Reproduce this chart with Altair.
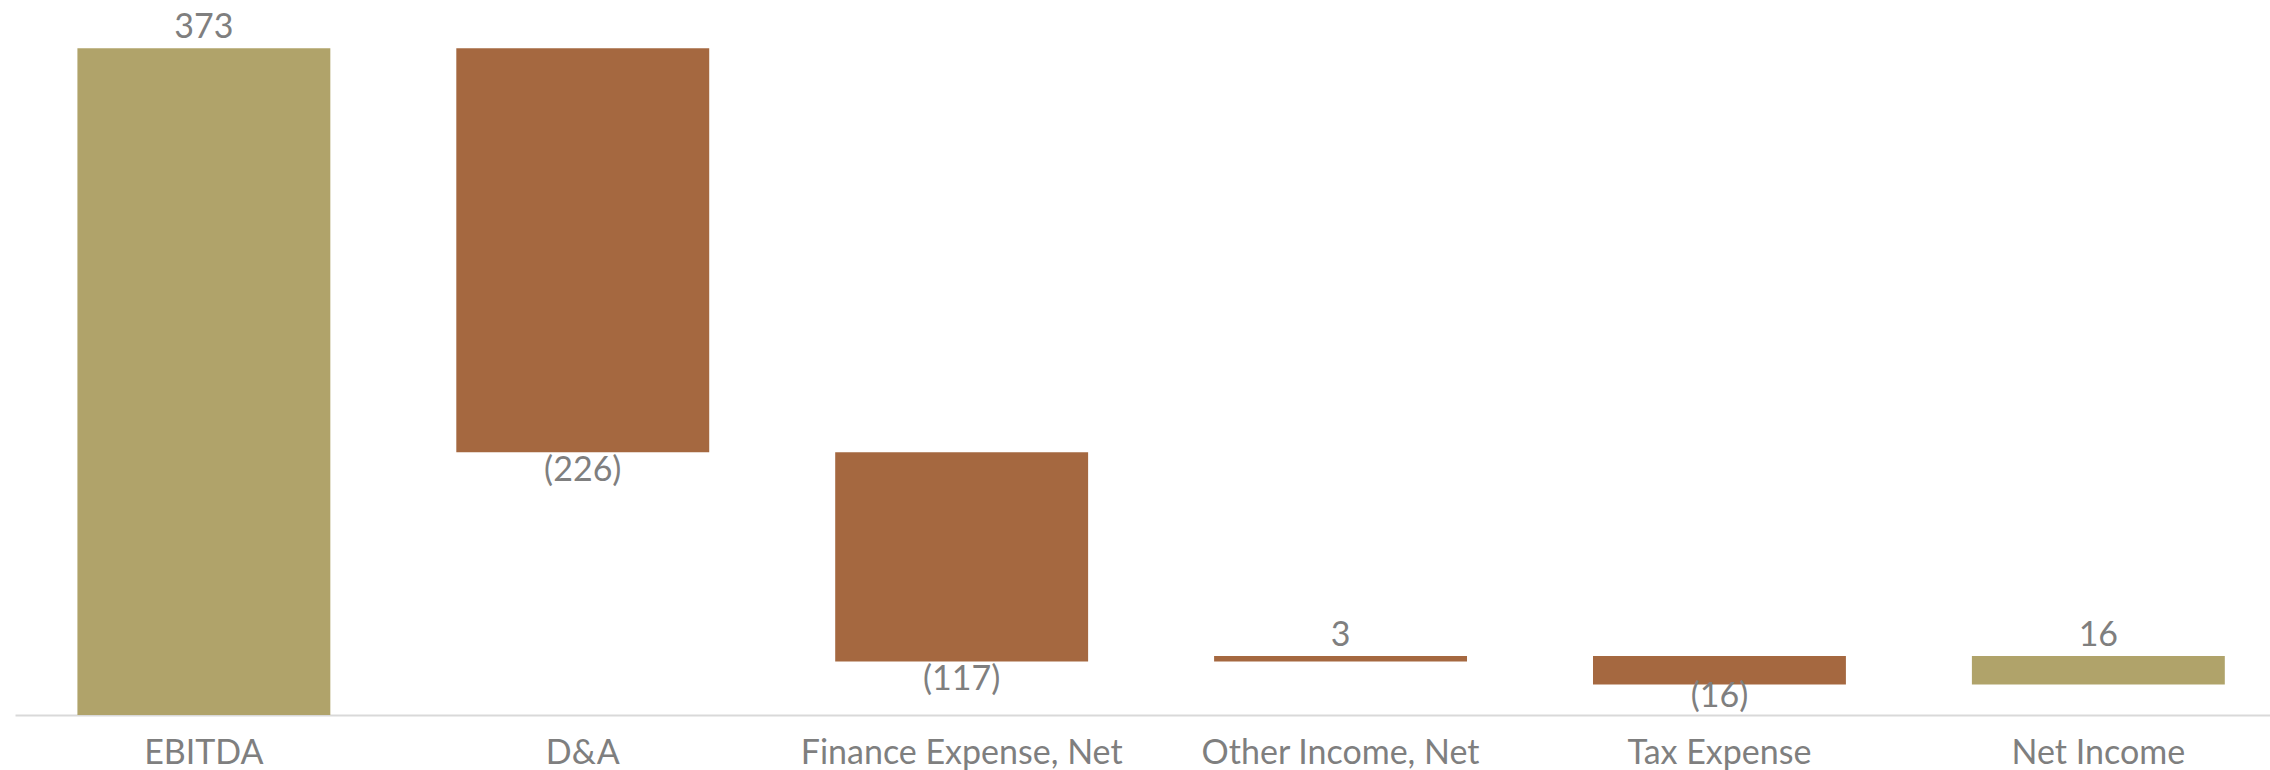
import altair as alt
import pandas as pd

categories = ["EBITDA", "D&A", "Finance Expense, Net", "Other Income, Net", "Tax Expense", "Net Income"]
values = [373, -226, -117, 3, -16, 16]
bar_start = [0, 373, 147, 30, 33, 17]
bar_end = [373, 147, 30, 33, 17, 33]
kinds = ["total", "change", "change", "change", "change", "total"]
labels = ["373", "(226)", "(117)", "3", "(16)", "16"]

df = pd.DataFrame({
    "category": categories,
    "value": values,
    "start": bar_start,
    "end": bar_end,
    "kind": kinds,
    "label": labels,
})
df["top"] = df[["start", "end"]].max(axis=1)
df["bottom"] = df[["start", "end"]].min(axis=1)

FONT = "Lato"
GRAY = "#7f7f7f"

x_scale = alt.Scale(paddingInner=0.3325, paddingOuter=0.142, align=0.58)

x_enc = alt.X(
    "category:N",
    sort=categories,
    scale=x_scale,
    axis=alt.Axis(
        title=None, labelAngle=0, domainColor="#d9d9d9", domainWidth=2,
        ticks=False, tickSize=0, labelFont=FONT, labelFontSize=34,
        labelColor=GRAY, labelPadding=48, labelBaseline="alphabetic",
        labelLimit=600, labelOverlap=False,
    ),
)
y_scale = alt.Scale(domain=[0, 400], nice=False, zero=True)

base = alt.Chart(df)

bars = base.mark_bar().encode(
    x=x_enc,
    y=alt.Y("start:Q", scale=y_scale, axis=None),
    y2="end:Q",
    color=alt.Color("kind:N", scale=alt.Scale(domain=["total", "change"], range=["#B0A36A", "#A56840"]), legend=None),
)

x_plain = alt.X("category:N", sort=categories, scale=x_scale)

pos_labels = base.transform_filter("datum.value >= 0").mark_text(
    font=FONT, fontSize=34, color=GRAY, baseline="alphabetic", dy=-10
).encode(x=x_plain, y=alt.Y("top:Q", scale=y_scale), text="label:N")

neg_labels = base.transform_filter("datum.value < 0 && datum.bottom >= 25").mark_text(
    font=FONT, fontSize=34, color=GRAY, baseline="alphabetic", dy=29
).encode(x=x_plain, y=alt.Y("bottom:Q", scale=y_scale), text="label:N")

neg_labels_low = base.transform_filter("datum.value < 0 && datum.bottom < 25").mark_text(
    font=FONT, fontSize=34, color=GRAY, baseline="alphabetic", dy=22
).encode(x=x_plain, y=alt.Y("bottom:Q", scale=y_scale), text="label:N")

chart = alt.layer(bars, pos_labels, neg_labels, neg_labels_low).properties(
    width=2255, height=715,
    background="white",
    autosize=alt.AutoSizeParams(type="none"),
    padding={"left": 15, "top": 0, "right": 0, "bottom": 55},
).configure_view(strokeWidth=0, stroke="transparent")

chart.save("out.html", embed_options={"renderer": "svg", "actions": False})
